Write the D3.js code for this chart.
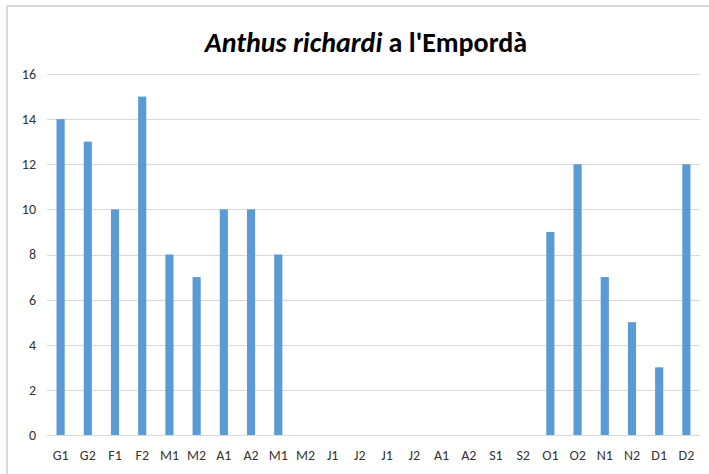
<!DOCTYPE html>
<html>
<head>
<meta charset="utf-8">
<script src="https://cdn.jsdelivr.net/npm/d3@7/dist/d3.min.js"></script>
<style>
  html, body { margin: 0; padding: 0; background: #ffffff; }
  svg { display: block; }
  text { font-family: Calibri, Carlito, Lato, "Open Sans", sans-serif; }
</style>
</head>
<body>
<svg id="chart" width="709" height="474"></svg>
<script>
// Half-month periods (Catalan month initials) and bird counts
const periods = ["G1","G2","F1","F2","M1","M2","A1","A2","M1","M2","J1","J2",
                 "J1","J2","A1","A2","S1","S2","O1","O2","N1","N2","D1","D2"];
const counts  = [14, 13, 10, 15, 8, 7, 10, 10, 8, 0, 0, 0,
                 0, 0, 0, 0, 0, 0, 9, 12, 7, 5, 3, 12];
const yTicks  = [0, 2, 4, 6, 8, 10, 12, 14, 16];

const svg = d3.select("#chart");
const W = 709, H = 474;
const plot = { left: 47, right: 700, top: 74, bottom: 435 };

// chart frame
svg.append("rect")
  .attr("x", 7).attr("y", 6)
  .attr("width", W + 10).attr("height", H + 10)
  .attr("fill", "#ffffff")
  .attr("stroke", "#d9d9d9").attr("stroke-width", 2);

const x = d3.scaleBand()
  .domain(d3.range(periods.length))
  .range([plot.left, plot.right])
  .paddingInner(0.7).paddingOuter(0.35);

const y = d3.scaleLinear()
  .domain([0, 16])
  .range([plot.bottom, plot.top]);

// gridlines
svg.append("g")
  .selectAll("line")
  .data(yTicks)
  .join("line")
  .attr("x1", plot.left).attr("x2", plot.right)
  .attr("y1", d => Math.round(y(d)) + 0.5)
  .attr("y2", d => Math.round(y(d)) + 0.5)
  .attr("stroke", "#d9d9d9").attr("stroke-width", 1);

// y axis labels
const yAxis = d3.axisLeft(y).tickValues(yTicks).tickSize(0).tickPadding(11);
svg.append("g")
  .attr("transform", `translate(${plot.left},0)`)
  .call(yAxis)
  .call(g => g.select(".domain").remove())
  .call(g => g.selectAll("text")
    .attr("fill", "#333333")
    .style("font-size", "14px")
    .style("font-family", "Calibri, Carlito, Lato, 'Open Sans', sans-serif"));

// bars
svg.append("g")
  .selectAll("rect")
  .data(counts)
  .join("rect")
  .attr("x", (d, i) => x(i))
  .attr("width", x.bandwidth())
  .attr("y", d => y(d))
  .attr("height", d => y(0) - y(d))
  .attr("fill", "#5b9bd5");

// x axis labels
const xAxis = d3.axisBottom(x)
  .tickFormat(i => periods[i])
  .tickSize(0).tickPadding(15);
svg.append("g")
  .attr("transform", `translate(0,${plot.bottom})`)
  .call(xAxis)
  .call(g => g.select(".domain").remove())
  .call(g => g.selectAll("text")
    .attr("fill", "#333333")
    .style("font-size", "14px")
    .style("font-family", "Calibri, Carlito, Lato, 'Open Sans', sans-serif"));

// title
const title = svg.append("text")
  .attr("x", 366).attr("y", 52)
  .attr("text-anchor", "middle")
  .attr("fill", "#000000")
  .attr("font-weight", "bold")
  .style("font-size", "28px");
title.append("tspan").attr("font-style", "italic").text("Anthus richardi");
title.append("tspan").text(" a l'Empordà");
</script>
</body>
</html>
